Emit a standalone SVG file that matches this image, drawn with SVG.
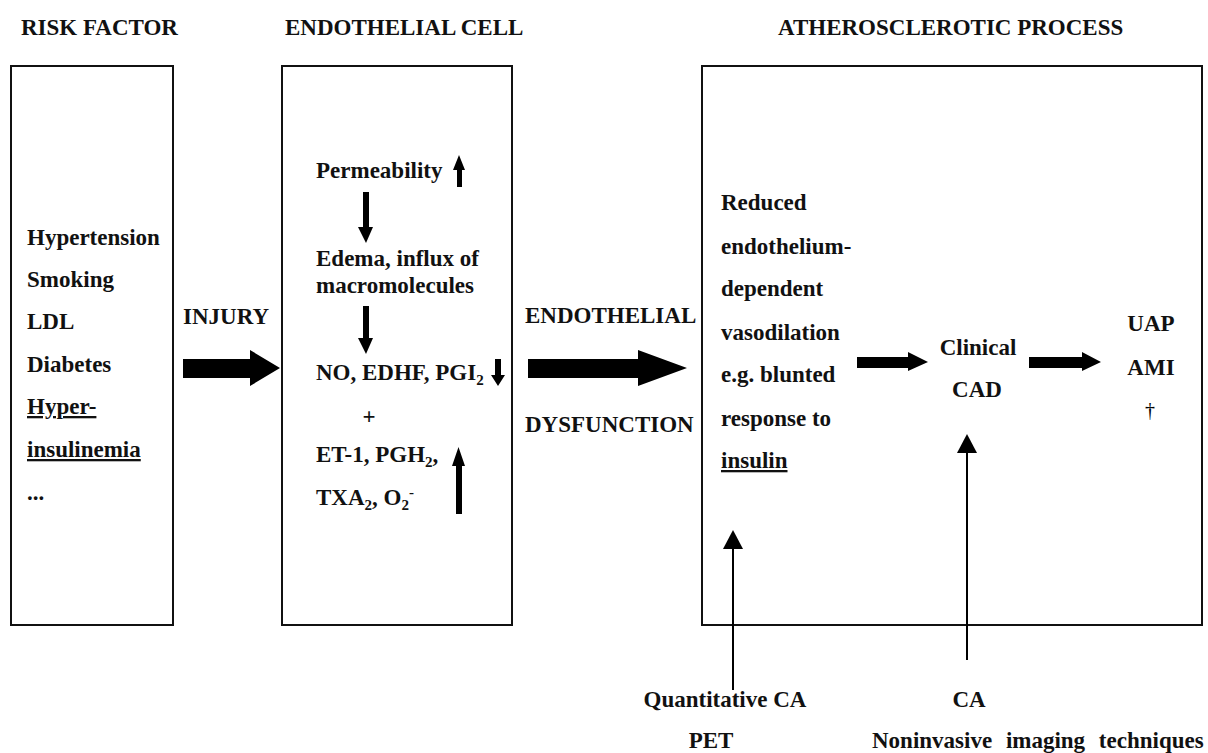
<svg xmlns="http://www.w3.org/2000/svg" width="1208" height="753" viewBox="0 0 1208 753">
<style>
.t{font-family:"Liberation Serif","Tinos","DejaVu Serif","Noto Serif",serif;font-weight:bold;font-size:23px;fill:#111}
.box{fill:none;stroke:#111;stroke-width:2}
.ah{fill:#000;stroke:none}
.ln{stroke:#000;stroke-width:2;fill:none}
.sub{font-size:15px}
.u{text-decoration:underline}
.dg{font-family:"Liberation Serif","DejaVu Serif",serif;font-size:20px;fill:#000}
</style>
<rect width="1208" height="753" fill="#fff"/>

<g id="risk-factor">
<text class="t" x="21" y="35">RISK FACTOR</text>
<rect class="box" x="11" y="66" width="162" height="559"/>
<text class="t" x="27" y="245">Hypertension</text>
<text class="t" x="27" y="287">Smoking</text>
<text class="t" x="27" y="329">LDL</text>
<text class="t" x="27" y="372">Diabetes</text>
<text class="t u" x="27" y="414">Hyper-</text>
<text class="t u" x="27" y="457">insulinemia</text>
<text class="t" x="27" y="500">...</text>
</g>

<g id="injury-label">
<text class="t" x="183" y="324">INJURY</text>
</g>

<g id="endothelial-cell">
<text class="t" x="285" y="35">ENDOTHELIAL CELL</text>
<rect class="box" x="282" y="66" width="230" height="559"/>
<text class="t" x="316" y="178">Permeability</text>
<text class="t" x="316" y="266">Edema, influx of</text>
<text class="t" x="316" y="293">macromolecules</text>
<text class="t" x="316" y="380">NO, EDHF, PGI<tspan class="sub" dy="5">2</tspan></text>
<text class="t" x="369" y="424" text-anchor="middle">+</text>
<text class="t" x="316" y="462">ET-1, PGH<tspan class="sub" dy="5">2</tspan><tspan dy="-5">,</tspan></text>
<text class="t" x="316" y="505">TXA<tspan class="sub" dy="5">2</tspan><tspan dy="-5">, O</tspan><tspan class="sub" dy="5">2</tspan><tspan class="sub" dy="-13">-</tspan></text>
<path class="ah" d="M459,155 L465,170 L462,170 L462,187 L457,187 L457,170 L453,170 Z"/>
<path class="ah" d="M363,192 L369,192 L369,227 L373,227 L366,243 L358,227 L363,227 Z"/>
<path class="ah" d="M363,306 L369,306 L369,338 L373,338 L366,354 L358,338 L363,338 Z"/>
<path class="ah" d="M495,359 L501,359 L501,375 L505,375 L498,386 L491,375 L495,375 Z"/>
<path class="ah" d="M458.5,447 L465,466 L462,466 L462,514 L456,514 L456,466 L452,466 Z"/>
</g>

<g id="dysfunction-label">
<text class="t" x="525" y="323">ENDOTHELIAL</text>
<text class="t" x="525" y="432">DYSFUNCTION</text>
</g>

<g id="atherosclerotic-process">
<text class="t" x="778" y="35">ATHEROSCLEROTIC PROCESS</text>
<rect class="box" x="702" y="66" width="500" height="559"/>
</g>

<g id="reduced-vasodilation">
<text class="t" x="721" y="210">Reduced</text>
<text class="t" x="721" y="254">endothelium-</text>
<text class="t" x="721" y="296">dependent</text>
<text class="t" x="721" y="340">vasodilation</text>
<text class="t" x="721" y="382">e.g. blunted</text>
<text class="t" x="721" y="426">response to</text>
<text class="t u" x="721" y="468">insulin</text>
</g>

<g id="clinical-cad">
<text class="t" x="978" y="355" text-anchor="middle">Clinical</text>
<text class="t" x="977" y="397" text-anchor="middle">CAD</text>
</g>

<g id="outcomes">
<text class="t" x="1151" y="331" text-anchor="middle">UAP</text>
<text class="t" x="1151" y="375" text-anchor="middle">AMI</text>
<text class="dg" x="1150" y="417" text-anchor="middle" fill="#000">†</text>
</g>

<g id="techniques-left">
<text class="t" x="725" y="707" text-anchor="middle">Quantitative CA</text>
<text class="t" x="711" y="748" text-anchor="middle">PET</text>
</g>

<g id="techniques-right">
<text class="t" x="969" y="707" text-anchor="middle">CA</text>
<text class="t" x="872" y="748" word-spacing="8">Noninvasive imaging techniques</text>
</g>

<g id="connectors">
<path class="ah" d="M183,359 L250,359 L250,350 L280,368 L250,386 L250,378 L183,378 Z"/>
<path class="ah" d="M528,359 L638,359 L638,350 L687,368 L638,386 L638,378 L528,378 Z"/>
<path class="ah" d="M857,357 L908,357 L908,352 L928,362 L908,371 L908,368 L857,368 Z"/>
<path class="ah" d="M1029,357 L1082,357 L1082,352 L1101,362 L1082,371 L1082,368 L1029,368 Z"/>
<line class="ln" x1="733" y1="690" x2="733" y2="546"/>
<path class="ah" d="M733,530 L743,549 L723,549 Z"/>
<line class="ln" x1="967" y1="660" x2="967" y2="450"/>
<path class="ah" d="M967,434 L977,453 L957,453 Z"/>
</g>
</svg>
